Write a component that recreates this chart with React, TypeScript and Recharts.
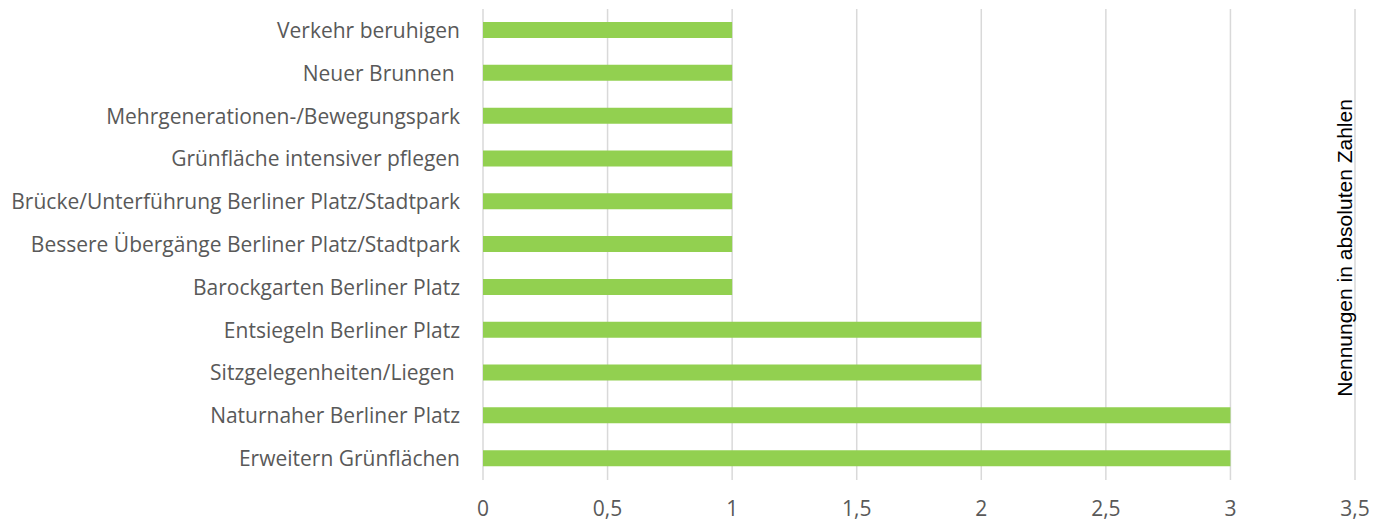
import React from 'react';
import { BarChart, Bar, XAxis, YAxis, CartesianGrid } from 'recharts';

const categories = [
  'Verkehr beruhigen',
  'Neuer Brunnen ',
  'Mehrgenerationen-/Bewegungspark',
  'Grünfläche intensiver pflegen',
  'Brücke/Unterführung Berliner Platz/Stadtpark',
  'Bessere Übergänge Berliner Platz/Stadtpark',
  'Barockgarten Berliner Platz',
  'Entsiegeln Berliner Platz',
  'Sitzgelegenheiten/Liegen ',
  'Naturnaher Berliner Platz',
  'Erweitern Grünflächen',
];
const values = [1, 1, 1, 1, 1, 1, 1, 2, 2, 3, 3];
const xTicks = [0, 0.5, 1, 1.5, 2, 2.5, 3, 3.5];

const data = categories.map((name, i) => ({ name, value: values[i] }));

const FONT = '"Open Sans", sans-serif';
const TEXT = '#595959';

export default function App() {
  return (
    <div style={{ position: 'absolute', left: 0, top: 0, width: 1385, height: 524, background: '#fff', overflow: 'hidden' }}>
      <BarChart
        width={1385}
        height={524}
        data={data}
        layout="vertical"
        margin={{ top: 9, right: 30, bottom: 0, left: 0 }}
      >
        <CartesianGrid horizontal={false} stroke="#d9d9d9" strokeWidth={1.5} />
        <XAxis
          type="number"
          domain={[0, 3.5]}
          ticks={xTicks}
          height={44}
          tickFormatter={(v: number) => String(v).replace('.', ',')}
          axisLine={false}
          tickLine={false}
          tickSize={0}
          tickMargin={21}
          tick={{ fill: TEXT, fontSize: 21, fontFamily: FONT }}
        />
        <YAxis
          type="category"
          dataKey="name"
          width={483}
          axisLine={false}
          tickLine={false}
          tickSize={0}
          tickMargin={23}
          interval={0}
          tick={{ fill: TEXT, fontSize: 21, fontFamily: FONT, style: { whiteSpace: 'pre' } }}
        />
        <Bar dataKey="value" fill="#92D050" barSize={16} isAnimationActive={false} />
      </BarChart>
      <div
        style={{
          position: 'absolute',
          left: 1345,
          top: 248,
          transform: 'translate(-50%, -50%) rotate(-90deg)',
          whiteSpace: 'nowrap',
          fontFamily: '"Liberation Sans", Arial, sans-serif',
          fontSize: 21,
          color: '#000',
        }}
      >
        Nennungen in absoluten Zahlen
      </div>
    </div>
  );
}
